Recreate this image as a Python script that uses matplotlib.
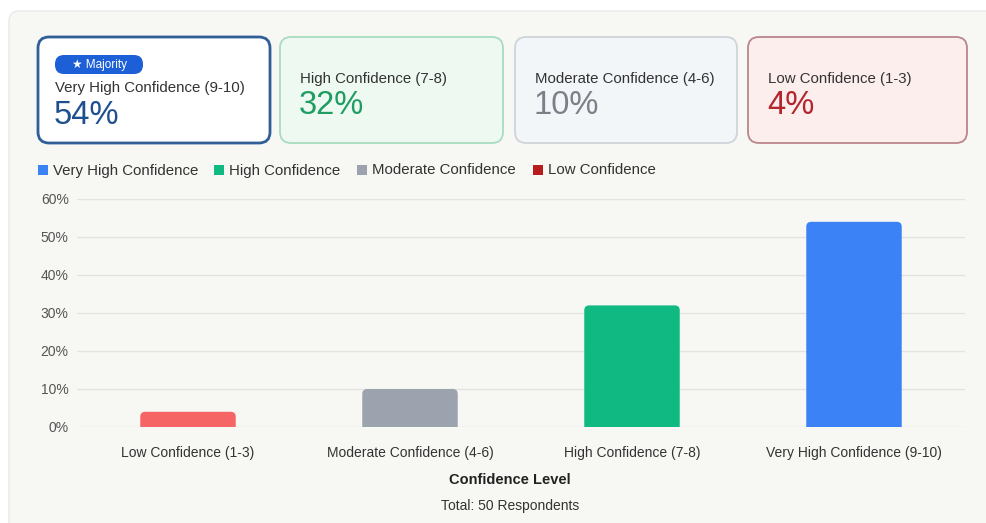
import matplotlib
matplotlib.use("Agg")
import matplotlib.pyplot as plt
from matplotlib.patches import FancyBboxPatch, Rectangle

plt.rcParams['font.family'] = ['Liberation Sans', 'DejaVu Sans']

# ---- data ----
categories = ["Low Confidence (1-3)", "Moderate Confidence (4-6)",
              "High Confidence (7-8)", "Very High Confidence (9-10)"]
values = [4, 10, 32, 54]
bar_colors = ["#f56565", "#9ca3af", "#10b981", "#3b82f6"]

legend_labels = ["Very High Confidence", "High Confidence", "Moderate Confidence", "Low Confidence"]
legend_colors = ["#3b82f6", "#10b981", "#9ca3af", "#b91c1c"]

card_titles = ["Very High Confidence (9-10)", "High Confidence (7-8)",
               "Moderate Confidence (4-6)", "Low Confidence (1-3)"]
card_values = ["54%", "32%", "10%", "4%"]
card_value_colors = ["#1e4f8f", "#1f9d62", "#7b8088", "#b3262e"]
card_bg = ["#ffffff", "#eef9f2", "#f3f6f9", "#fdeeee"]
card_edge = ["#2f5f96", "#a9dcc0", "#cfd4da", "#b9868b"]

yticks = [0, 10, 20, 30, 40, 50, 60]
ytick_labels = ["0%", "10%", "20%", "30%", "40%", "50%", "60%"]
xlabel = "Confidence Level"
footnote = "Total: 50 Respondents"

W, H = 986, 523
fig = plt.figure(figsize=(W / 100, H / 100), dpi=100)
fig.patch.set_facecolor("#ffffff")

# overlay in pixel coordinates
bg = fig.add_axes([0, 0, 1, 1], zorder=0)
bg.set_xlim(0, W)
bg.set_ylim(H, 0)
bg.axis("off")

# panel
bg.add_patch(FancyBboxPatch((9, 11), W + 20, H + 20,
                            boxstyle="round,pad=0,rounding_size=10",
                            fc="#f7f7f3", ec="#e9e9e6", lw=1.0))

# cards
card_x = [38, 280, 515, 748]
card_w = [232, 223, 222, 219]
card_y, card_h = 37, 106
for i in range(4):
    bg.add_patch(FancyBboxPatch((card_x[i], card_y), card_w[i], card_h,
                                boxstyle="round,pad=0,rounding_size=11",
                                fc=card_bg[i], ec=card_edge[i],
                                lw=2.0 if i == 0 else 1.3))
    if i == 0:
        bg.add_patch(FancyBboxPatch((55, 55), 88, 19,
                                    boxstyle="round,pad=0,rounding_size=9",
                                    fc="#1d5fd6", ec="none"))
        bg.text(99, 65, "★ Majority", color="white", fontsize=8.5,
                ha="center", va="center")
        tx, ty, vy = 55, 88, 115
    else:
        tx, ty, vy = card_x[i] + 20, 79, 105
    bg.text(tx, ty, card_titles[i], fontsize=10.8,
            color="#333333", ha="left", va="center")
    bg.text(tx - 1, vy, card_values[i], fontsize=23.5, color=card_value_colors[i],
            ha="left", va="center")

# legend
leg_sq_x = [38, 214, 357, 533]
for i in range(4):
    bg.add_patch(Rectangle((leg_sq_x[i], 165), 10, 10, fc=legend_colors[i], ec="none"))
    bg.text(leg_sq_x[i] + 15, 170.5, legend_labels[i], fontsize=10.8,
            color="#333333", ha="left", va="center")

# x label and footnote
bg.text(510, 480, xlabel, fontsize=10.5, fontweight="bold", color="#222222",
        ha="center", va="center")
bg.text(510, 506, footnote, fontsize=10, color="#333333", ha="center", va="center")

# main chart
ax = fig.add_axes([77 / W, (H - 427) / H, (965 - 77) / W, 228 / H], zorder=1)
ax.set_facecolor("none")
x = list(range(len(categories)))
bars = ax.bar(x, values, width=0.43, color=bar_colors, zorder=3)
ax.set_xlim(-0.5, 3.5)
ax.set_ylim(0, 60)

# rounded-top versions of the bars, built from the bar geometry
px_per_x = (965 - 77) / 4.0
px_per_y = 228 / 60.0
r = 5 / px_per_x
for b in bars:
    b.set_visible(False)
    ext = 2.0
    p = FancyBboxPatch((b.get_x(), -ext), b.get_width(), b.get_height() + ext,
                       boxstyle=f"round,pad=0,rounding_size={r}",
                       mutation_aspect=px_per_x / px_per_y,
                       fc=b.get_facecolor(), ec="none", zorder=3)
    ax.add_patch(p)

ax.set_yticks(yticks)
ax.set_yticklabels(ytick_labels)
ax.set_xticks(x)
ax.set_xticklabels(categories)
ax.tick_params(axis="both", length=0, labelsize=10)
ax.tick_params(axis="y", pad=6, colors="#555555")
ax.tick_params(axis="x", pad=14, colors="#333333")
ax.grid(axis="y", color="#e3e3e0", lw=1.0, zorder=0)
for s in ax.spines.values():
    s.set_visible(False)

fig.savefig("out.png", dpi=100, facecolor=fig.get_facecolor())
